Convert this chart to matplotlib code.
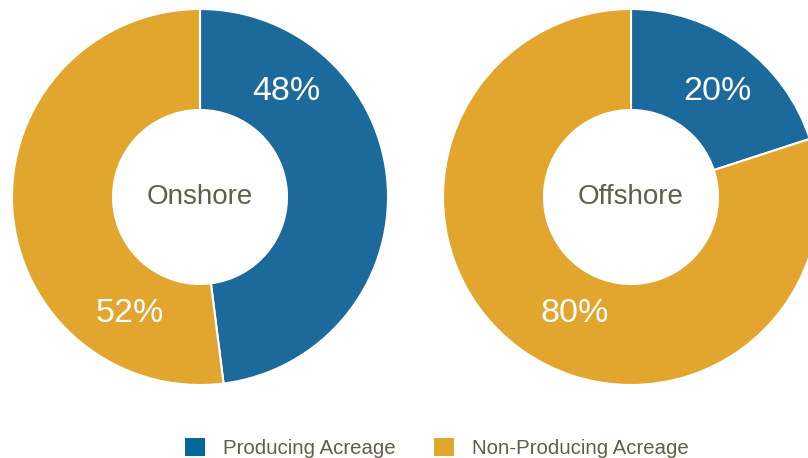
import matplotlib
matplotlib.use("Agg")
import matplotlib.pyplot as plt
from matplotlib.patches import Patch

plt.rcParams['font.family'] = ['Liberation Sans', 'DejaVu Sans']

# データ
regions = ['Onshore', 'Offshore']
producing = [48, 20]
non_producing = [52, 80]
series_names = ['Producing Acreage', 'Non-Producing Acreage']

blue = '#1c6a9b'
orange = '#e2a52d'
text_grey = '#5e604a'

W, H = 808, 458
fig = plt.figure(figsize=(W / 100, H / 100), dpi=100)

R = 188
centers = [(200, 197), (631, 197)]
# ラベル位置（半径 = 1）
top_pos = (86 / R, 105 / R)
bottom_pos = [(-70 / R, -116 / R), (-56 / R, -116 / R)]

for i, (name, cx_cy) in enumerate(zip(regions, centers)):
    cx, cy = cx_cy
    ax = fig.add_axes([(cx - R) / W, (H - cy - R) / H, 2 * R / W, 2 * R / H])
    vals = [producing[i], non_producing[i]]
    ax.pie(vals, colors=[blue, orange], startangle=90, counterclock=False,
           radius=1, wedgeprops=dict(width=1 - 87 / R, edgecolor='white', linewidth=1.5))
    ax.set_xlim(-1, 1)
    ax.set_ylim(-1, 1)
    ax.set_aspect('equal')
    ax.axis('off')
    ax.text(top_pos[0], top_pos[1], f'{producing[i]}%', color='white',
            fontsize=24.5, ha='center', va='center')
    ax.text(bottom_pos[i][0], bottom_pos[i][1], f'{non_producing[i]}%', color='white',
            fontsize=24.5, ha='center', va='center')
    ax.text(0, 0, name, color=text_grey, fontsize=20, ha='center', va='center')

handles = [Patch(facecolor='#00679a', edgecolor='none'),
           Patch(facecolor=orange, edgecolor='none')]
leg = fig.legend(handles, series_names, loc='center', ncol=2,
                 bbox_to_anchor=(437 / W, 1 - 448 / H), frameon=False,
                 fontsize=14.7, handlelength=0.95, handleheight=0.95,
                 handletextpad=0.9, columnspacing=1.9)
for t in leg.get_texts():
    t.set_color(text_grey)

fig.savefig('out.png', dpi=100)
